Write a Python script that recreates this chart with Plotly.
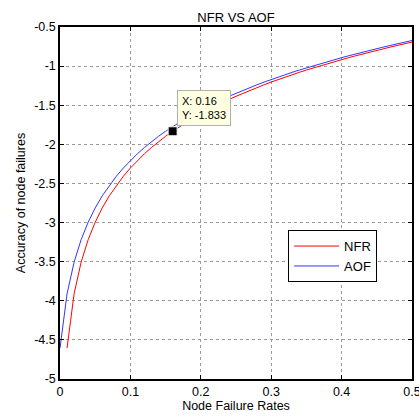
import plotly.graph_objects as go

# Values
nfr_x = [0.01, 0.02, 0.03, 0.04, 0.05, 0.06, 0.07, 0.08, 0.09, 0.10,
         0.11, 0.12, 0.13, 0.14, 0.15, 0.16, 0.17, 0.18, 0.19, 0.20,
         0.21, 0.22, 0.23, 0.24, 0.25, 0.26, 0.27, 0.28, 0.29, 0.30,
         0.31, 0.32, 0.33, 0.34, 0.35, 0.36, 0.37, 0.38, 0.39, 0.40,
         0.41, 0.42, 0.43, 0.44, 0.45, 0.46, 0.47, 0.48, 0.49, 0.50]
nfr_y = [-4.605, -3.912, -3.507, -3.219, -2.996, -2.813, -2.659, -2.526, -2.408, -2.303,
         -2.207, -2.120, -2.040, -1.966, -1.897, -1.833, -1.772, -1.715, -1.661, -1.609,
         -1.561, -1.514, -1.470, -1.427, -1.386, -1.347, -1.309, -1.273, -1.238, -1.204,
         -1.171, -1.139, -1.109, -1.079, -1.050, -1.022, -0.994, -0.968, -0.942, -0.916,
         -0.892, -0.868, -0.844, -0.821, -0.799, -0.777, -0.755, -0.734, -0.713, -0.693]

aof_x = [0.00, 0.01, 0.02, 0.03, 0.04, 0.05, 0.06, 0.07, 0.08, 0.09, 0.10,
         0.11, 0.12, 0.13, 0.14, 0.15, 0.16, 0.17, 0.18, 0.19, 0.20,
         0.21, 0.22, 0.23, 0.24, 0.25, 0.26, 0.27, 0.28, 0.29, 0.30,
         0.31, 0.32, 0.33, 0.34, 0.35, 0.36, 0.37, 0.38, 0.39, 0.40,
         0.41, 0.42, 0.43, 0.44, 0.45, 0.46, 0.47, 0.48, 0.49, 0.50]
aof_y = [-4.605, -3.912, -3.507, -3.219, -2.996, -2.813, -2.659, -2.526, -2.408, -2.303,
         -2.207, -2.120, -2.040, -1.966, -1.897, -1.833, -1.772, -1.715, -1.661, -1.609,
         -1.561, -1.514, -1.470, -1.427, -1.386, -1.347, -1.309, -1.273, -1.238, -1.204,
         -1.171, -1.139, -1.109, -1.079, -1.050, -1.022, -0.994, -0.968, -0.942, -0.916,
         -0.892, -0.868, -0.844, -0.821, -0.799, -0.777, -0.755, -0.734, -0.713, -0.693,
         -0.673]

tip_x = [0.16]
tip_y = [-1.833]

x_tick_vals = [0, 0.1, 0.2, 0.3, 0.4, 0.5]
x_tick_text = ["0", "0.1", "0.2", "0.3", "0.4", "0.5"]
y_tick_vals = [-5, -4.5, -4, -3.5, -3, -2.5, -2, -1.5, -1, -0.5]
y_tick_text = ["-5", "-4.5", "-4", "-3.5", "-3", "-2.5", "-2", "-1.5", "-1", "-0.5"]

FONT = "Liberation Sans, Arial, sans-serif"

fig = go.Figure()
fig.add_trace(go.Scatter(x=nfr_x, y=nfr_y, mode="lines", name="NFR",
                         line=dict(color="#ff0000", width=1)))
fig.add_trace(go.Scatter(x=aof_x, y=aof_y, mode="lines", name="AOF",
                         line=dict(color="#3333ff", width=1)))
fig.add_trace(go.Scatter(x=tip_x, y=tip_y, mode="markers", showlegend=False,
                         marker=dict(symbol="square", size=9, color="black",
                                     line=dict(color="#ffffe1", width=1))))

fig.add_annotation(x=tip_x[0], y=tip_y[0], xref="x", yref="y",
                   text="X: 0.16<br>Y: -1.833", showarrow=False,
                   xanchor="left", yanchor="bottom", xshift=4, yshift=5,
                   align="left", bgcolor="#ffffe1", bordercolor="#b0b0b0",
                   borderwidth=1, borderpad=4,
                   font=dict(family=FONT, size=11, color="black"))

axis_common = dict(showline=True, linecolor="black", linewidth=1.5, mirror="allticks",
                   ticks="inside", ticklen=4, tickcolor="black", tickwidth=1,
                   showgrid=True, gridcolor="#9a9a9a", griddash="dot", gridwidth=1,
                   zeroline=False, automargin=False, ticklabeloverflow="allow",
                   tickfont=dict(family=FONT, size=12.5, color="black"))

fig.update_xaxes(range=[0, 0.5], tickmode="array", tickvals=x_tick_vals,
                 ticktext=x_tick_text,
                 title=dict(text="Node Failure Rates", standoff=2,
                            font=dict(family=FONT, size=12.5, color="black")),
                 **axis_common)
fig.update_yaxes(range=[-5, -0.5], tickmode="array", tickvals=y_tick_vals,
                 ticktext=y_tick_text,
                 title=dict(text="Accuracy of node failures", standoff=6,
                            font=dict(family=FONT, size=12.5, color="black")),
                 **axis_common)

fig.update_layout(
    width=419, height=417,
    margin=dict(l=60, r=7, t=27, b=38),
    paper_bgcolor="white", plot_bgcolor="white",
    title=dict(text="NFR VS AOF", x=(60 + 412) / 2 / 419, xanchor="center",
               y=1 - 17 / 417, yanchor="middle", yref="container",
               font=dict(family=FONT, size=13, color="black")),
    legend=dict(x=0.648, y=0.423, xanchor="left", yanchor="top",
                bgcolor="white", bordercolor="black", borderwidth=1,
                font=dict(family=FONT, size=13, color="black"),
                itemwidth=45, tracegroupgap=0),
    font=dict(family=FONT, size=12, color="black"),
    showlegend=True,
)

fig.write_html("out.html",
               config={"displayModeBar": False},
               post_script="document.body.style.margin='0';document.body.style.overflow='hidden';")
